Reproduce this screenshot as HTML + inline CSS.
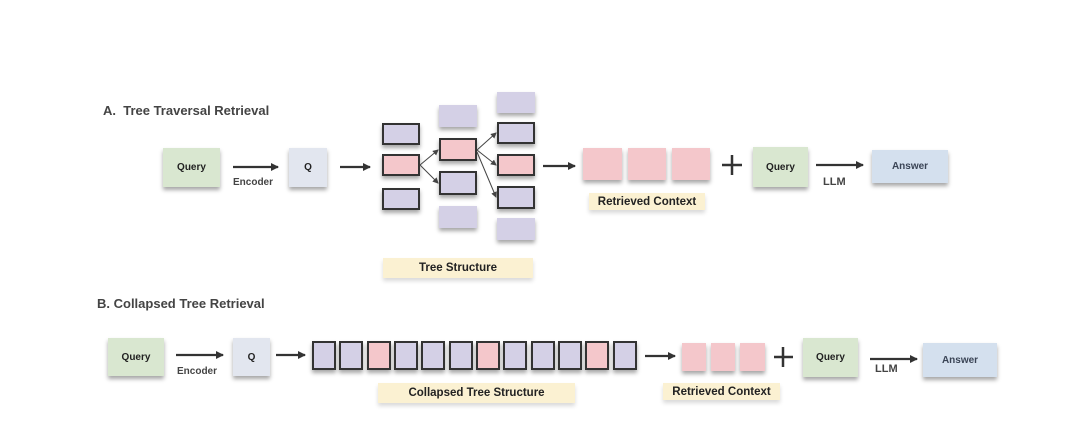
<!DOCTYPE html>
<html><head><meta charset="utf-8"><style>
body{margin:0;width:1080px;height:444px;background:#fff;position:relative;overflow:hidden;font-family:"Liberation Sans",sans-serif;}
.b{position:absolute;box-sizing:border-box;box-shadow:0 3px 4px rgba(0,0,0,0.35);display:flex;align-items:center;justify-content:center;font-weight:bold;font-size:10px;color:#222;}
.g{background:#d9e7d0;}
.q{background:#e2e6ef;}
.a{background:#d4e0ee;color:#3a4455;}
.p{background:#d4d0e6;border:2px solid #333;}
.pf{background:#d4d0e6;}
.r{background:#f4c7cb;}
.rb{background:#f4c7cb;border:2px solid #333;}
.l{position:absolute;background:#fbf1d2;box-shadow:0 3px 4px rgba(0,0,0,0.15);font-weight:bold;font-size:11.5px;color:#222;display:flex;align-items:center;justify-content:center;}
.t{position:absolute;font-weight:bold;color:#444;font-size:13px;}
.s{position:absolute;font-weight:bold;color:#444;font-size:10px;}
</style></head><body>
<div class="t" style="left:103px;top:103px;">A.&nbsp; Tree Traversal Retrieval</div>
<div class="t" style="left:97px;top:296px;">B. Collapsed Tree Retrieval</div>

<div class="b g" style="left:163px;top:148px;width:57px;height:39px;">Query</div>
<div class="s" style="left:233px;top:177px;">Encoder</div>
<div class="b q" style="left:289px;top:148px;width:38px;height:39px;">Q</div>

<div class="b p" style="left:382px;top:123px;width:38px;height:22px;"></div>
<div class="b rb" style="left:382px;top:154px;width:38px;height:22px;"></div>
<div class="b p" style="left:382px;top:188px;width:38px;height:22px;"></div>

<div class="b pf" style="left:439px;top:105px;width:38px;height:22px;"></div>
<div class="b rb" style="left:439px;top:138px;width:38px;height:23px;"></div>
<div class="b p" style="left:439px;top:171px;width:38px;height:24px;"></div>
<div class="b pf" style="left:439px;top:206px;width:38px;height:22px;"></div>

<div class="b pf" style="left:497px;top:92px;width:38px;height:21px;"></div>
<div class="b p" style="left:497px;top:122px;width:38px;height:22px;"></div>
<div class="b rb" style="left:497px;top:154px;width:38px;height:22px;"></div>
<div class="b p" style="left:497px;top:186px;width:38px;height:23px;"></div>
<div class="b pf" style="left:497px;top:218px;width:38px;height:22px;"></div>

<div class="l" style="left:383px;top:258px;width:150px;height:20px;">Tree Structure</div>

<div class="b r" style="left:583px;top:148px;width:39px;height:32px;"></div>
<div class="b r" style="left:628px;top:148px;width:38px;height:32px;"></div>
<div class="b r" style="left:672px;top:148px;width:38px;height:32px;"></div>
<div class="l" style="left:589px;top:193px;width:116px;height:17px;">Retrieved Context</div>

<div class="b g" style="left:753px;top:147px;width:55px;height:40px;">Query</div>
<div class="s" style="left:823px;top:176px;font-size:11px;">LLM</div>
<div class="b a" style="left:872px;top:150px;width:76px;height:33px;">Answer</div>

<div class="b g" style="left:108px;top:338px;width:56px;height:38px;">Query</div>
<div class="s" style="left:177px;top:366px;">Encoder</div>
<div class="b q" style="left:233px;top:338px;width:37px;height:38px;">Q</div>

<div class="b p" style="left:312px;top:341px;width:24px;height:29px;"></div>
<div class="b p" style="left:339px;top:341px;width:24px;height:29px;"></div>
<div class="b rb" style="left:367px;top:341px;width:24px;height:29px;"></div>
<div class="b p" style="left:394px;top:341px;width:24px;height:29px;"></div>
<div class="b p" style="left:421px;top:341px;width:24px;height:29px;"></div>
<div class="b p" style="left:449px;top:341px;width:24px;height:29px;"></div>
<div class="b rb" style="left:476px;top:341px;width:24px;height:29px;"></div>
<div class="b p" style="left:503px;top:341px;width:24px;height:29px;"></div>
<div class="b p" style="left:531px;top:341px;width:24px;height:29px;"></div>
<div class="b p" style="left:558px;top:341px;width:24px;height:29px;"></div>
<div class="b rb" style="left:585px;top:341px;width:24px;height:29px;"></div>
<div class="b p" style="left:613px;top:341px;width:24px;height:29px;"></div>
<div class="l" style="left:378px;top:383px;width:197px;height:20px;">Collapsed Tree Structure</div>

<div class="b r" style="left:682px;top:343px;width:24px;height:28px;"></div>
<div class="b r" style="left:711px;top:343px;width:24px;height:28px;"></div>
<div class="b r" style="left:740px;top:343px;width:25px;height:28px;"></div>
<div class="l" style="left:663px;top:383px;width:117px;height:17px;">Retrieved Context</div>

<div class="b g" style="left:803px;top:338px;width:55px;height:39px;">Query</div>
<div class="s" style="left:875px;top:363px;font-size:11px;">LLM</div>
<div class="b a" style="left:923px;top:343px;width:74px;height:34px;">Answer</div>

<svg width="1080" height="444" style="position:absolute;left:0;top:0;" xmlns="http://www.w3.org/2000/svg">
<defs><marker id="m" markerWidth="8" markerHeight="8" refX="7" refY="4" orient="auto" markerUnits="userSpaceOnUse"><path d="M0,0 L8,4 L0,8 z" fill="#333"/></marker>
<marker id="s" markerWidth="6" markerHeight="6" refX="5" refY="3" orient="auto" markerUnits="userSpaceOnUse"><path d="M0,0 L6,3 L0,6 z" fill="#444"/></marker></defs>
<g stroke="#333" stroke-width="2.2" fill="none">
<line x1="233" y1="167" x2="278" y2="167" marker-end="url(#m)"/>
<line x1="340" y1="167" x2="370" y2="167" marker-end="url(#m)"/>
<line x1="543" y1="166" x2="575" y2="166" marker-end="url(#m)"/>
<line x1="816" y1="165" x2="863" y2="165" marker-end="url(#m)"/>
<line x1="176" y1="355" x2="223" y2="355" marker-end="url(#m)"/>
<line x1="276" y1="355" x2="305" y2="355" marker-end="url(#m)"/>
<line x1="645" y1="356" x2="675" y2="356" marker-end="url(#m)"/>
<line x1="870" y1="359" x2="917" y2="359" marker-end="url(#m)"/>
</g>
<g stroke="#444" stroke-width="1" fill="none">
<line x1="420" y1="165" x2="438" y2="150" marker-end="url(#s)"/>
<line x1="420" y1="165" x2="438" y2="183" marker-end="url(#s)"/>
<line x1="477" y1="150" x2="496" y2="133" marker-end="url(#s)"/>
<line x1="477" y1="150" x2="496" y2="165" marker-end="url(#s)"/>
<line x1="477" y1="152" x2="496" y2="197" marker-end="url(#s)"/>
</g>
<g stroke="#333" stroke-width="2.5">
<line x1="722" y1="165" x2="742" y2="165"/><line x1="732" y1="155" x2="732" y2="175"/>
<line x1="774" y1="357" x2="793" y2="357"/><line x1="783" y1="347" x2="783" y2="367"/>
</g>
</svg>
</body></html>
